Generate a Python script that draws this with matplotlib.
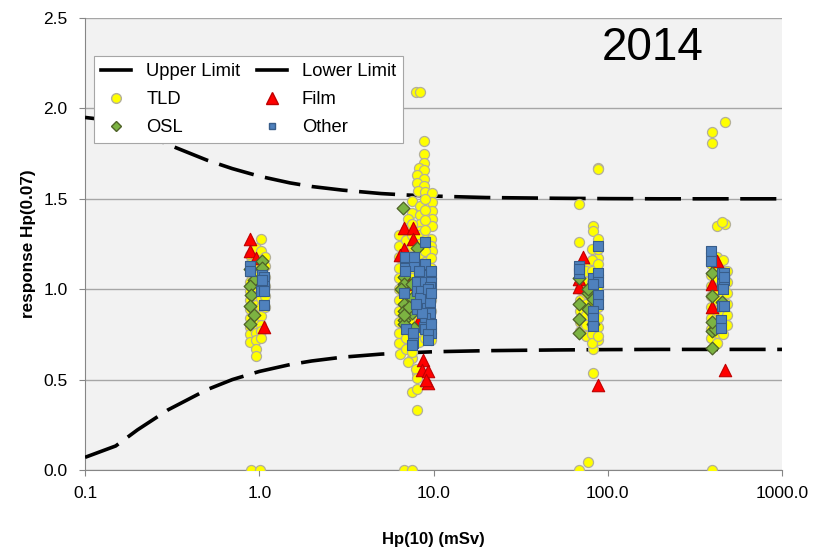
import matplotlib
matplotlib.use("Agg")
import matplotlib.pyplot as plt
from matplotlib.lines import Line2D
from matplotlib.legend_handler import HandlerLine2D
import numpy as np

plt.rcParams['font.family'] = ['Liberation Sans', 'DejaVu Sans']

# ------------------------------------------------------------------
# trumpet curve (upper / lower acceptance limit)
# ------------------------------------------------------------------
limit_dose = [0.1, 0.15, 0.2, 0.3, 0.5, 0.7, 1, 1.5, 2, 3, 5, 7, 10, 20, 50, 100, 200, 500, 1000]
upper_limit = [1.95, 1.93, 1.875, 1.80, 1.714, 1.667, 1.625, 1.588, 1.568, 1.548, 1.529,
               1.521, 1.515, 1.507, 1.503, 1.501, 1.500, 1.500, 1.500]
lower_limit = [0.07, 0.133, 0.222, 0.333, 0.444, 0.50, 0.545, 0.583, 0.603, 0.624, 0.641,
               0.648, 0.654, 0.660, 0.664, 0.666, 0.667, 0.667, 0.667]

# ------------------------------------------------------------------
# results per dosemeter type: (Hp(10) mSv, response Hp(0.07))
# ------------------------------------------------------------------
tld = [
    # ~1 mSv
    (0.89, 1.19), (0.89, 1.14), (0.89, 1.09), (0.89, 1.04), (0.89, 0.99), (0.89, 0.94),
    (0.89, 0.89), (0.89, 0.84), (0.89, 0.79), (0.89, 0.75), (0.89, 0.71),
    (0.955, 1.23), (0.955, 1.17), (0.955, 1.12), (0.955, 1.07), (0.955, 1.01), (0.955, 0.96),
    (0.955, 0.91), (0.955, 0.86), (0.955, 0.81), (0.955, 0.76), (0.955, 0.72), (0.955, 0.67),
    (0.955, 0.63),
    (1.02, 1.28), (1.02, 1.21), (1.02, 1.16), (1.02, 1.11), (1.02, 1.05), (1.02, 1.00),
    (1.02, 0.95), (1.02, 0.90), (1.02, 0.85), (1.02, 0.80), (1.02, 0.77), (1.02, 0.73),
    (1.075, 1.18), (1.075, 1.13), (1.075, 1.07), (1.075, 1.02), (1.075, 0.96), (1.075, 0.90),
    (0.90, 0.0), (1.01, 0.0),
    # ~7-10 mSv
    (7.95, 2.09), (8.32, 2.09), (8.79, 1.82), (8.79, 1.75), (8.79, 1.70), (8.23, 1.67),
    (8.79, 1.66), (8.04, 1.63), (8.79, 1.61), (8.04, 1.59), (8.79, 1.57), (8.13, 1.545),
    (8.88, 1.535), (9.82, 1.53), (7.48, 1.49), (8.42, 1.46), (9.82, 1.48), (9.82, 1.43),
    (7.48, 1.42), (8.42, 1.41), (9.82, 1.39), (7.10, 1.39), (8.42, 1.36), (9.82, 1.35),
    (8.42, 1.32), (9.72, 1.28), (9.63, 1.24), (9.82, 1.21),
    (8.04, 0.535), (7.48, 0.43), (8.04, 0.45), (8.04, 0.33), (6.73, 0.0), (7.48, 0.0),
    (6.73, 0.68), (7.48, 0.62), (7.95, 0.56), (8.04, 0.51), (6.45, 0.64), (7.10, 0.60),
    (6.36, 1.30), (6.36, 1.24), (6.36, 1.18), (6.36, 1.12), (6.36, 1.06), (6.36, 1.00),
    (6.36, 0.94), (6.36, 0.88), (6.36, 0.82), (6.36, 0.76), (6.36, 0.70),
    (6.92, 1.33), (6.92, 1.27), (6.92, 1.21), (6.92, 1.15), (6.92, 1.09), (6.92, 1.03),
    (6.92, 0.97), (6.92, 0.91), (6.92, 0.85), (6.92, 0.79), (6.92, 0.73), (6.92, 0.67),
    (7.57, 1.36), (7.57, 1.30), (7.57, 1.24), (7.57, 1.18), (7.57, 1.12), (7.57, 1.06),
    (7.57, 1.00), (7.57, 0.94), (7.57, 0.88), (7.57, 0.82), (7.57, 0.76), (7.57, 0.70),
    (7.57, 0.65),
    (8.23, 1.30), (8.23, 1.25), (8.23, 1.19), (8.23, 1.13), (8.23, 1.07), (8.23, 1.01),
    (8.23, 0.95), (8.23, 0.89), (8.23, 0.83), (8.23, 0.77), (8.23, 0.71),
    (8.88, 1.50), (8.88, 1.44), (8.88, 1.38), (8.88, 1.33), (8.88, 1.27), (8.88, 1.21),
    (8.88, 1.15), (8.88, 1.09), (8.88, 1.03), (8.88, 0.97), (8.88, 0.91), (8.88, 0.85),
    (8.88, 0.79), (8.88, 0.73),
    (9.72, 1.17), (9.72, 1.12), (9.72, 1.06), (9.72, 1.00), (9.72, 0.94), (9.72, 0.88),
    (9.72, 0.82), (9.72, 0.76), (9.72, 0.72),
    # ~80-100 mSv
    (87.5, 1.67), (88.4, 1.665), (68.7, 1.47), (82.0, 1.35), (82.0, 1.32), (87.9, 1.28),
    (68.7, 1.26), (87.9, 1.17), (76.7, 1.12), (82.0, 0.67), (87.9, 0.72), (82.0, 0.535),
    (76.7, 0.045), (68.3, 0.0),
    (69.2, 1.12), (69.2, 1.06), (69.2, 1.00), (69.2, 0.94), (69.2, 0.88), (69.2, 0.82),
    (69.2, 0.77),
    (74.8, 1.10), (74.8, 1.04), (74.8, 0.98), (74.8, 0.92), (74.8, 0.86), (74.8, 0.80),
    (74.8, 0.74),
    (81.3, 1.22), (81.3, 1.16), (81.3, 1.10), (81.3, 1.04), (81.3, 0.98), (81.3, 0.92),
    (81.3, 0.86), (81.3, 0.80), (81.3, 0.75), (81.3, 0.70),
    (87.9, 1.22), (87.9, 1.14), (87.9, 1.08), (87.9, 1.02), (87.9, 0.96), (87.9, 0.90),
    (87.9, 0.84), (87.9, 0.79), (87.9, 0.74),
    # ~400-500 mSv
    (471, 1.925), (397, 1.87), (397, 1.81), (424, 1.35), (471, 1.36), (453, 1.37),
    (424, 0.70), (397, 0.0),
    (393, 1.20), (393, 1.14), (393, 1.08), (393, 1.02), (393, 0.96), (393, 0.90),
    (393, 0.84), (393, 0.78), (393, 0.73),
    (421, 1.18), (421, 1.12), (421, 1.06), (421, 1.00), (421, 0.94), (421, 0.88),
    (421, 0.82), (421, 0.76), (421, 0.70),
    (458, 1.16), (458, 1.10), (458, 1.04), (458, 0.98), (458, 0.92), (458, 0.86),
    (458, 0.80), (458, 0.75),
    (486, 1.10), (486, 1.04), (486, 0.98), (486, 0.92), (486, 0.86), (486, 0.80),
]

film = [
    (0.89, 1.28), (0.88, 1.21), (0.955, 1.17), (0.935, 1.05), (1.07, 0.79),
    (6.73, 1.34), (7.67, 1.34), (7.67, 1.28), (6.73, 1.22), (6.45, 1.19), (8.70, 0.61),
    (8.60, 0.555), (9.35, 0.545), (9.35, 0.48), (9.07, 0.50), (8.79, 0.85), (8.13, 0.82),
    (7.20, 1.03),
    (72.0, 1.18), (68.3, 1.055), (68.3, 1.01), (87.9, 0.47),
    (424, 1.155), (397, 1.03), (397, 0.90), (471, 0.555),
]

osl = [
    (1.04, 1.155), (0.89, 1.11), (0.935, 1.05), (0.88, 1.02), (0.90, 0.97), (0.88, 0.905),
    (0.935, 0.855), (0.89, 0.805), (1.03, 1.12),
    (6.64, 1.45), (8.04, 1.23), (6.73, 1.07), (6.73, 1.03), (6.73, 0.92), (6.73, 0.88),
    (6.73, 0.83), (6.73, 0.81), (7.48, 0.95), (7.48, 0.87), (7.85, 0.78), (7.48, 1.03),
    (6.73, 0.86), (7.76, 0.785), (6.55, 1.00), (7.20, 0.90),
    (68.3, 1.06), (76.7, 0.98), (68.3, 0.92), (76.7, 0.89), (82.0, 0.945), (68.3, 0.835),
    (68.3, 0.755), (82.0, 0.81), (76.7, 1.00),
    (397, 1.09), (397, 0.96), (453, 0.93), (397, 0.77), (411, 0.78), (397, 0.675),
    (397, 0.82),
]

other = [
    (0.89, 1.13), (0.88, 1.10), (1.03, 1.08), (1.07, 1.07), (1.03, 1.03), (1.07, 1.02),
    (1.02, 0.99), (1.06, 0.99), (1.07, 0.915), (1.03, 1.05),
    (6.83, 1.17), (6.83, 1.12), (7.76, 1.17), (7.76, 1.13), (8.88, 1.14), (9.63, 1.10),
    (8.51, 1.08), (8.04, 1.04), (8.98, 1.04), (9.63, 1.04), (6.73, 0.98), (8.04, 0.99),
    (8.51, 0.99), (9.54, 1.01), (8.98, 0.92), (9.54, 0.93), (8.04, 0.89), (9.54, 0.87),
    (8.98, 0.84), (6.92, 0.78), (7.67, 0.76), (9.63, 0.76), (8.79, 0.79), (7.67, 0.70),
    (8.88, 1.26), (6.83, 1.18), (7.76, 1.18), (6.83, 1.10), (7.57, 0.69), (8.98, 0.78),
    (9.35, 0.75), (9.72, 0.81), (8.42, 0.95), (8.23, 1.10), (9.26, 1.00), (9.72, 0.98),
    (8.60, 0.87), (9.35, 0.72), (7.95, 0.92),
    (87.9, 1.24), (68.3, 1.13), (68.3, 1.09), (82.0, 1.06), (87.9, 1.09), (87.9, 1.04),
    (82.0, 1.03), (87.9, 0.97), (87.9, 0.92), (82.0, 0.88), (82.0, 0.84), (82.0, 0.795),
    (68.3, 1.11),
    (393, 1.21), (393, 1.155), (453, 1.09), (467, 1.09), (453, 1.03), (467, 1.05),
    (453, 0.905), (467, 0.905), (449, 0.83), (449, 0.785), (467, 1.07), (458, 1.00),
]

year_label = '2014'


class RightMarker(HandlerLine2D):
    # legend symbol sits towards the right end of the handle box
    def get_xdata(self, legend, xdescent, ydescent, width, height, fontsize):
        xdata, _ = super().get_xdata(legend, xdescent, ydescent, width, height, fontsize)
        return xdata, np.array([0.68 * width - xdescent])


# ------------------------------------------------------------------
fig = plt.figure(figsize=(8.24, 5.49), dpi=100)
ax = fig.add_axes([0.1032, 0.1439, 0.8458, 0.8233])
ax.set_facecolor('#f2f2f2')

ax.plot(limit_dose, upper_limit, color='black', lw=2.6, dashes=(10, 3.2), zorder=3)
ax.plot(limit_dose, lower_limit, color='black', lw=2.6, dashes=(10, 3.2), zorder=3)

t = np.array(tld).T
ax.scatter(t[0], t[1], s=52, marker='o', facecolor='#ffff00', edgecolor='#b4b09a',
           linewidths=0.9, zorder=4)
f = np.array(film).T
ax.scatter(f[0], f[1], s=80, marker='^', facecolor='#ff0000', edgecolor='#c00000',
           linewidths=0.8, zorder=5)
o = np.array(osl).T
ax.scatter(o[0], o[1], s=42, marker='D', facecolor='#7cb342', edgecolor='#4f6228',
           linewidths=0.9, zorder=6)
q = np.array(other).T
ax.scatter(q[0], q[1], s=44, marker='s', facecolor='#4f81bd', edgecolor='#385d8a',
           linewidths=0.8, zorder=7)

ax.set_xscale('log')
ax.set_xlim(0.1, 1000)
ax.set_ylim(0, 2.5)
ax.set_xticks([0.1, 1, 10, 100, 1000])
ax.set_xticklabels(['0.1', '1.0', '10.0', '100.0', '1000.0'])
ax.minorticks_off()
ax.set_yticks(np.arange(0, 2.51, 0.5))
ax.set_yticklabels([f'{v:.1f}' for v in np.arange(0, 2.51, 0.5)])
ax.tick_params(axis='both', labelsize=12.5, color='#868686', length=4.5)
ax.tick_params(axis='y', pad=8)
ax.tick_params(axis='x', pad=7)
ax.grid(axis='y', color='#a6a6a6', lw=1.0)
ax.set_axisbelow(True)
for side in ['top', 'right']:
    ax.spines[side].set_visible(False)
for side in ['left', 'bottom']:
    ax.spines[side].set_color('#868686')

ax.set_xlabel('Hp(10) (mSv)', fontsize=12, fontweight='bold', labelpad=22)
ax.set_ylabel('response Hp(0.07)', fontsize=12.3, fontweight='bold', labelpad=5)

ax.text(0.815, 0.933, year_label, transform=ax.transAxes, fontsize=33,
        ha='center', va='center')

handles = [
    Line2D([], [], color='black', lw=2.6),
    Line2D([], [], ls='none', marker='o', ms=7, mfc='#ffff00', mec='#b4b09a'),
    Line2D([], [], ls='none', marker='D', ms=5, mfc='#7cb342', mec='#4f6228'),
    Line2D([], [], color='black', lw=2.6),
    Line2D([], [], ls='none', marker='^', ms=9, mfc='#ff0000', mec='#c00000'),
    Line2D([], [], ls='none', marker='s', ms=5, mfc='#4f81bd', mec='#385d8a'),
]
labels = ['Upper Limit', 'TLD', 'OSL', 'Lower Limit', 'Film', 'Other']
leg = ax.legend(handles, labels, ncol=2, loc='upper left', bbox_to_anchor=(0.013, 0.916),
                borderaxespad=0, fontsize=13.2, frameon=True, fancybox=False,
                edgecolor='#a6a6a6', framealpha=1, handlelength=1.66, handletextpad=0.8,
                columnspacing=0.9, labelspacing=0.6, borderpad=0.38,
                handler_map={Line2D: RightMarker()})
leg.get_frame().set_linewidth(0.8)
leg.set_zorder(10)

fig.savefig('out.png', dpi=100)
